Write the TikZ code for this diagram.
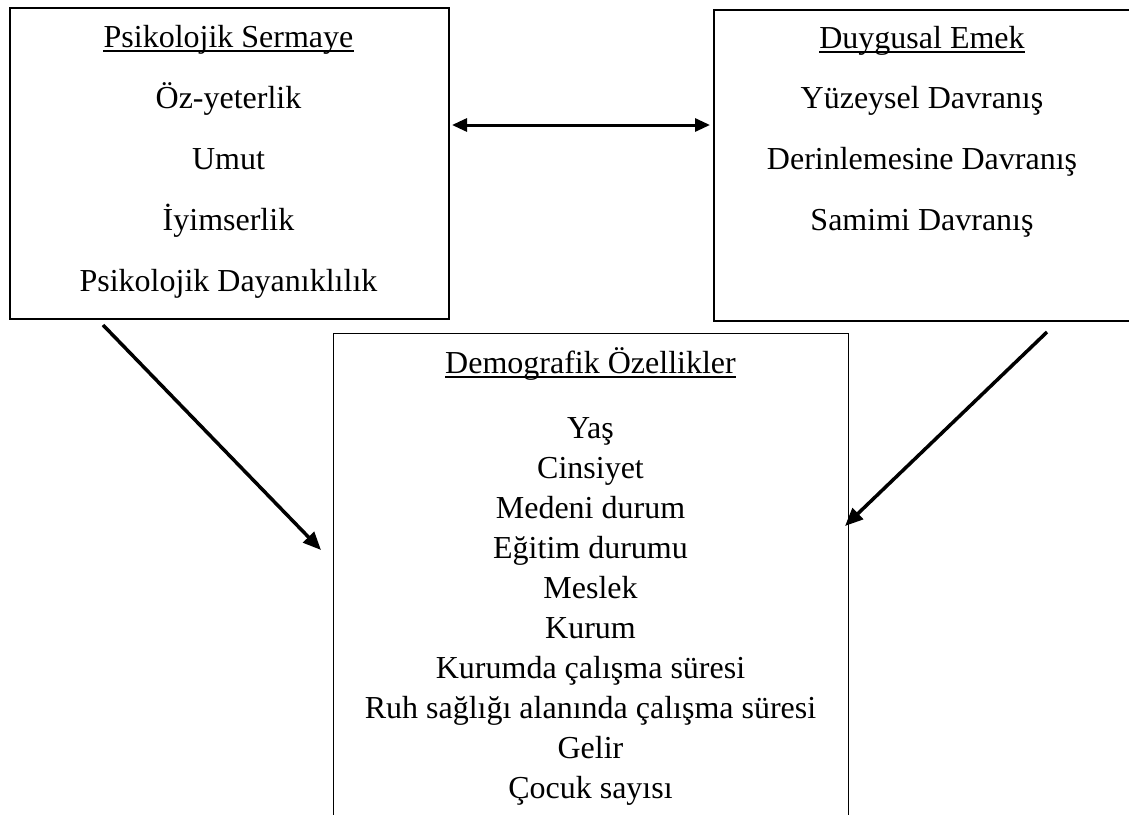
\documentclass[tikz,border=0pt]{standalone}
\usepackage{fontspec}
\setmainfont{Liberation Serif}
\usetikzlibrary{positioning,calc,arrows.meta}

\begin{document}
\begin{tikzpicture}[x=1pt,y=-1pt,
    frame/.style={draw,line width=1.6pt,inner sep=0pt,anchor=north west},
    item/.style={inner sep=0pt,anchor=base,font=\fontsize{32}{38}\selectfont},
    uline/.style={line width=1.6pt},
    link/.style={line width=3.5pt,-{Triangle[length=18pt,width=15pt]}},
    both/.style={line width=3pt,{Triangle[length=15pt,width=13pt]}-{Triangle[length=15pt,width=13pt]}}]
	\useasboundingbox (0,0) rectangle (1129,814);
	
	%BOXES
	\node[frame,minimum width=439pt,minimum height=311pt] (psbox) at (9,7) {};
	\node[frame,minimum width=425pt,minimum height=311pt] (dubox) at (713,9) {};
	\node[frame,line width=1pt,minimum width=515pt,minimum height=520pt] (debox) at (333,333) {};
	
	%psikolojik sermaye
	\node[item] (pst) at (228.5,47) {Psikolojik Sermaye};
	\draw[uline] ($(pst.base west)+(0,4)$) -- ($(pst.base east)+(0,4)$);
	\foreach \t [count=\i] in {Öz-yeterlik,Umut,İyimserlik,Psikolojik Dayanıklılık}
		\node[item] (ps\i) at (228.5,47+61*\i) {\t};
	
	%duygusal emek
	\node[item] (dut) at (922,48) {Duygusal Emek};
	\draw[uline] ($(dut.base west)+(0,4)$) -- ($(dut.base east)+(0,4)$);
	\foreach \t [count=\i] in {Yüzeysel Davranış,Derinlemesine Davranış,Samimi Davranış}
		\node[item] (du\i) at (922,48+60.7*\i) {\t};
	
	%demografik
	\node[item] (det) at (590.5,373) {Demografik Özellikler};
	\draw[uline] ($(det.base west)+(0,4)$) -- ($(det.base east)+(0,4)$);
	\foreach \t [count=\i] in {Yaş,Cinsiyet,Medeni durum,Eğitim durumu,Meslek,Kurum,Kurumda çalışma süresi,Ruh sağlığı alanında çalışma süresi,Gelir,Çocuk sayısı}
		\node[item] (de\i) at (590.5,398+40*\i) {\t};
	
	%ARROWS
	\coordinate (bl) at (452,125);
	\coordinate (br) at (710,125);
	\draw[both] (bl) -- (br);
	
	\coordinate (ps-out) at (103,325);
	\coordinate (de-inl) at (321,550);
	\draw[link] (ps-out) -- (de-inl);
	
	\coordinate (du-out) at (1047,332);
	\coordinate (de-inr) at (845,526);
	\draw[link] (du-out) -- (de-inr);
\end{tikzpicture}
\end{document}
